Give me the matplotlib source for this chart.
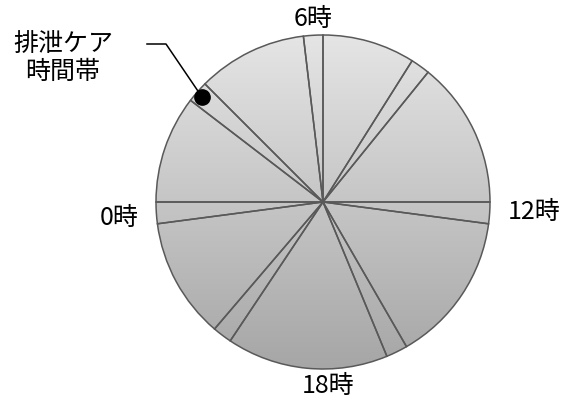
import matplotlib
matplotlib.use("Agg")
import matplotlib.pyplot as plt
import numpy as np
from matplotlib.patches import Circle

plt.rcParams['font.family'] = ['Noto Sans CJK JP', 'DejaVu Sans']

# slice boundaries in hours (0時 at left, clockwise)
bounds = [0, 2.5, 3.0, 5.55, 6.0, 8.15, 8.6, 12.0, 12.5, 16.0, 16.5, 20.25, 20.7, 23.5, 24]
hour_labels = ["0時", "6時", "12時", "18時"]
care_label = "排泄ケア\n時間帯"

sizes = np.diff(bounds)

W, H = 575, 403
fig = plt.figure(figsize=(W / 100, H / 100), dpi=100)
ax = fig.add_axes([0, 0, 1, 1])

cx, cy, r = 323, H - 202, 167

# vertical grey gradient clipped to the pie
grad = np.linspace(0, 1, 256).reshape(-1, 1)
cmap = matplotlib.colors.LinearSegmentedColormap.from_list('g', ['#a6a6a6', '#e5e5e5'])
im = ax.imshow(grad, cmap=cmap, extent=[cx - r, cx + r, cy - r, cy + r],
               origin='lower', aspect='auto', zorder=1)
clip = Circle((cx, cy), r, transform=ax.transData)
im.set_clip_path(clip)

ax.pie(sizes, radius=r, center=(cx, cy), startangle=180, counterclock=False,
       colors=['none'] * len(sizes),
       wedgeprops=dict(edgecolor='#595959', linewidth=1.1, zorder=2),
       frame=True)
ax.set_xlim(0, W)
ax.set_ylim(0, H)
ax.set_aspect('equal')
ax.axis('off')

fs = 18
ax.text(119, H - 218, hour_labels[0], fontsize=fs, ha='center', va='center')
ax.text(313, H - 19, hour_labels[1], fontsize=fs, ha='center', va='center')
ax.text(534, H - 212, hour_labels[2], fontsize=fs, ha='center', va='center')
ax.text(328, H - 386, hour_labels[3], fontsize=fs, ha='center', va='center')

ax.text(63, H - 58, care_label, fontsize=fs, ha='center', va='center', linespacing=1.1)
ax.plot([147, 166, 202], [H - 44, H - 44, H - 97], color='black', lw=1.1, zorder=3)
ax.plot([202], [H - 97], 'o', color='black', markersize=11, zorder=4)

fig.savefig("out.png", dpi=100)
